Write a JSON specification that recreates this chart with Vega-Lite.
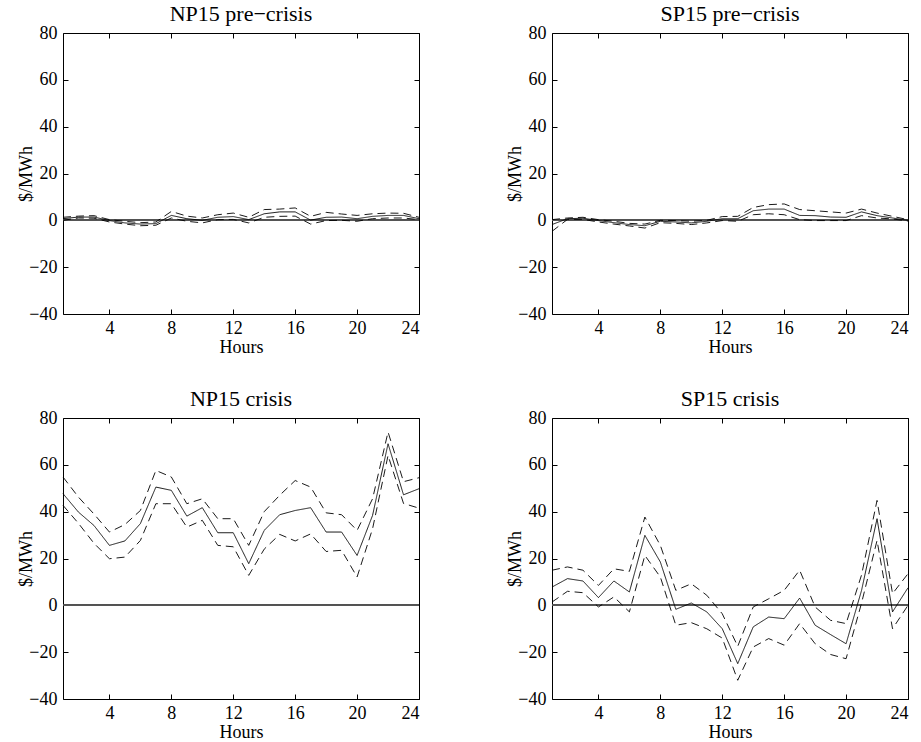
{
  "$schema": "https://vega.github.io/schema/vega-lite/v6.json",
  "padding": {"left": 16, "top": 2, "right": 5, "bottom": 0},
  "background": "white",
  "bounds": "flush",
  "spacing": {"row": 104, "column": 133},
  "columns": 2,
  "data": {"values": [
    {"panel": "NP15 pre", "hour": 1, "est": 0.7, "lo": 0.0, "hi": 1.3},
    {"panel": "NP15 pre", "hour": 2, "est": 1.4, "lo": 1.0, "hi": 1.8},
    {"panel": "NP15 pre", "hour": 3, "est": 1.4, "lo": 0.9, "hi": 2.0},
    {"panel": "NP15 pre", "hour": 4, "est": -0.1, "lo": -0.7, "hi": 0.3},
    {"panel": "NP15 pre", "hour": 5, "est": -1.1, "lo": -1.6, "hi": -0.4},
    {"panel": "NP15 pre", "hour": 6, "est": -1.6, "lo": -2.3, "hi": -1.0},
    {"panel": "NP15 pre", "hour": 7, "est": -1.4, "lo": -2.1, "hi": -0.7},
    {"panel": "NP15 pre", "hour": 8, "est": 2.1, "lo": 1.0, "hi": 3.8},
    {"panel": "NP15 pre", "hour": 9, "est": 0.7, "lo": -0.4, "hi": 1.8},
    {"panel": "NP15 pre", "hour": 10, "est": 0.0, "lo": -1.1, "hi": 1.0},
    {"panel": "NP15 pre", "hour": 11, "est": 1.3, "lo": 0.3, "hi": 2.4},
    {"panel": "NP15 pre", "hour": 12, "est": 1.6, "lo": 0.4, "hi": 3.1},
    {"panel": "NP15 pre", "hour": 13, "est": 0.3, "lo": -1.1, "hi": 1.3},
    {"panel": "NP15 pre", "hour": 14, "est": 2.8, "lo": 1.3, "hi": 4.6},
    {"panel": "NP15 pre", "hour": 15, "est": 3.6, "lo": 1.7, "hi": 4.8},
    {"panel": "NP15 pre", "hour": 16, "est": 3.6, "lo": 1.8, "hi": 5.3},
    {"panel": "NP15 pre", "hour": 17, "est": 0.1, "lo": -1.6, "hi": 1.7},
    {"panel": "NP15 pre", "hour": 18, "est": 1.3, "lo": -0.1, "hi": 3.4},
    {"panel": "NP15 pre", "hour": 19, "est": 1.4, "lo": 0.0, "hi": 2.7},
    {"panel": "NP15 pre", "hour": 20, "est": 0.7, "lo": -0.4, "hi": 2.1},
    {"panel": "NP15 pre", "hour": 21, "est": 1.7, "lo": 0.7, "hi": 2.8},
    {"panel": "NP15 pre", "hour": 22, "est": 2.1, "lo": 1.0, "hi": 3.1},
    {"panel": "NP15 pre", "hour": 23, "est": 2.1, "lo": 1.0, "hi": 3.0},
    {"panel": "NP15 pre", "hour": 24, "est": 0.7, "lo": 0.3, "hi": 1.3},
    {"panel": "SP15 pre", "hour": 1, "est": -1.8, "lo": -4.7, "hi": 0.3},
    {"panel": "SP15 pre", "hour": 2, "est": 0.7, "lo": 0.4, "hi": 1.0},
    {"panel": "SP15 pre", "hour": 3, "est": 0.9, "lo": 0.4, "hi": 1.3},
    {"panel": "SP15 pre", "hour": 4, "est": -0.1, "lo": -0.7, "hi": 0.3},
    {"panel": "SP15 pre", "hour": 5, "est": -1.0, "lo": -1.6, "hi": -0.4},
    {"panel": "SP15 pre", "hour": 6, "est": -1.8, "lo": -2.4, "hi": -1.3},
    {"panel": "SP15 pre", "hour": 7, "est": -2.3, "lo": -3.3, "hi": -1.6},
    {"panel": "SP15 pre", "hour": 8, "est": -0.4, "lo": -1.0, "hi": 0.0},
    {"panel": "SP15 pre", "hour": 9, "est": -0.7, "lo": -1.3, "hi": -0.1},
    {"panel": "SP15 pre", "hour": 10, "est": -1.1, "lo": -1.8, "hi": -0.4},
    {"panel": "SP15 pre", "hour": 11, "est": -0.4, "lo": -1.1, "hi": 0.0},
    {"panel": "SP15 pre", "hour": 12, "est": 0.7, "lo": -0.1, "hi": 1.6},
    {"panel": "SP15 pre", "hour": 13, "est": 0.7, "lo": -0.4, "hi": 1.7},
    {"panel": "SP15 pre", "hour": 14, "est": 4.1, "lo": 2.4, "hi": 5.5},
    {"panel": "SP15 pre", "hour": 15, "est": 4.8, "lo": 2.8, "hi": 6.7},
    {"panel": "SP15 pre", "hour": 16, "est": 4.8, "lo": 2.4, "hi": 7.0},
    {"panel": "SP15 pre", "hour": 17, "est": 2.1, "lo": 0.3, "hi": 4.6},
    {"panel": "SP15 pre", "hour": 18, "est": 2.0, "lo": -0.1, "hi": 4.1},
    {"panel": "SP15 pre", "hour": 19, "est": 1.4, "lo": -0.1, "hi": 3.6},
    {"panel": "SP15 pre", "hour": 20, "est": 1.3, "lo": -0.1, "hi": 3.1},
    {"panel": "SP15 pre", "hour": 21, "est": 3.6, "lo": 2.0, "hi": 4.8},
    {"panel": "SP15 pre", "hour": 22, "est": 2.0, "lo": 1.0, "hi": 3.1},
    {"panel": "SP15 pre", "hour": 23, "est": 1.0, "lo": 0.6, "hi": 1.7},
    {"panel": "SP15 pre", "hour": 24, "est": 0.0, "lo": -0.3, "hi": 0.3},
    {"panel": "NP15 crisis", "hour": 1, "est": 47.7, "lo": 42.7, "hi": 54.8},
    {"panel": "NP15 crisis", "hour": 2, "est": 39.8, "lo": 35.0, "hi": 46.2},
    {"panel": "NP15 crisis", "hour": 3, "est": 34.1, "lo": 26.5, "hi": 39.0},
    {"panel": "NP15 crisis", "hour": 4, "est": 25.6, "lo": 19.9, "hi": 31.3},
    {"panel": "NP15 crisis", "hour": 5, "est": 27.5, "lo": 20.6, "hi": 34.5},
    {"panel": "NP15 crisis", "hour": 6, "est": 34.9, "lo": 27.7, "hi": 40.5},
    {"panel": "NP15 crisis", "hour": 7, "est": 50.5, "lo": 43.4, "hi": 57.6},
    {"panel": "NP15 crisis", "hour": 8, "est": 49.1, "lo": 43.4, "hi": 54.8},
    {"panel": "NP15 crisis", "hour": 9, "est": 38.1, "lo": 33.4, "hi": 43.4},
    {"panel": "NP15 crisis", "hour": 10, "est": 41.7, "lo": 36.3, "hi": 45.5},
    {"panel": "NP15 crisis", "hour": 11, "est": 31.0, "lo": 25.6, "hi": 37.0},
    {"panel": "NP15 crisis", "hour": 12, "est": 31.0, "lo": 25.0, "hi": 37.0},
    {"panel": "NP15 crisis", "hour": 13, "est": 17.8, "lo": 12.8, "hi": 25.6},
    {"panel": "NP15 crisis", "hour": 14, "est": 32.0, "lo": 24.0, "hi": 40.0},
    {"panel": "NP15 crisis", "hour": 15, "est": 38.7, "lo": 30.3, "hi": 47.0},
    {"panel": "NP15 crisis", "hour": 16, "est": 40.5, "lo": 27.5, "hi": 53.3},
    {"panel": "NP15 crisis", "hour": 17, "est": 41.7, "lo": 30.5, "hi": 50.5},
    {"panel": "NP15 crisis", "hour": 18, "est": 31.3, "lo": 23.0, "hi": 39.5},
    {"panel": "NP15 crisis", "hour": 19, "est": 31.3, "lo": 23.5, "hi": 38.7},
    {"panel": "NP15 crisis", "hour": 20, "est": 21.3, "lo": 12.1, "hi": 32.0},
    {"panel": "NP15 crisis", "hour": 21, "est": 38.4, "lo": 32.7, "hi": 45.5},
    {"panel": "NP15 crisis", "hour": 22, "est": 69.0, "lo": 64.0, "hi": 74.0},
    {"panel": "NP15 crisis", "hour": 23, "est": 47.2, "lo": 43.5, "hi": 52.8},
    {"panel": "NP15 crisis", "hour": 24, "est": 49.8, "lo": 41.5, "hi": 54.5},
    {"panel": "SP15 crisis", "hour": 1, "est": 7.8, "lo": 1.4, "hi": 15.0},
    {"panel": "SP15 crisis", "hour": 2, "est": 11.4, "lo": 6.0, "hi": 16.4},
    {"panel": "SP15 crisis", "hour": 3, "est": 10.4, "lo": 5.4, "hi": 15.0},
    {"panel": "SP15 crisis", "hour": 4, "est": 3.3, "lo": -0.7, "hi": 8.5},
    {"panel": "SP15 crisis", "hour": 5, "est": 10.4, "lo": 3.6, "hi": 15.6},
    {"panel": "SP15 crisis", "hour": 6, "est": 5.7, "lo": -2.8, "hi": 14.5},
    {"panel": "SP15 crisis", "hour": 7, "est": 29.9, "lo": 21.3, "hi": 37.7},
    {"panel": "SP15 crisis", "hour": 8, "est": 18.5, "lo": 12.1, "hi": 25.6},
    {"panel": "SP15 crisis", "hour": 9, "est": -1.7, "lo": -8.5, "hi": 6.4},
    {"panel": "SP15 crisis", "hour": 10, "est": 1.0, "lo": -7.4, "hi": 9.2},
    {"panel": "SP15 crisis", "hour": 11, "est": -2.8, "lo": -10.0, "hi": 4.3},
    {"panel": "SP15 crisis", "hour": 12, "est": -10.0, "lo": -14.0, "hi": -3.6},
    {"panel": "SP15 crisis", "hour": 13, "est": -24.9, "lo": -32.0, "hi": -17.5},
    {"panel": "SP15 crisis", "hour": 14, "est": -9.2, "lo": -17.8, "hi": -0.7},
    {"panel": "SP15 crisis", "hour": 15, "est": -5.0, "lo": -14.2, "hi": 2.8},
    {"panel": "SP15 crisis", "hour": 16, "est": -5.7, "lo": -17.0, "hi": 6.4},
    {"panel": "SP15 crisis", "hour": 17, "est": 3.1, "lo": -7.8, "hi": 15.0},
    {"panel": "SP15 crisis", "hour": 18, "est": -8.5, "lo": -16.4, "hi": -0.7},
    {"panel": "SP15 crisis", "hour": 19, "est": -12.5, "lo": -21.0, "hi": -6.4},
    {"panel": "SP15 crisis", "hour": 20, "est": -16.4, "lo": -22.8, "hi": -7.8},
    {"panel": "SP15 crisis", "hour": 21, "est": 6.4, "lo": 1.0, "hi": 13.0},
    {"panel": "SP15 crisis", "hour": 22, "est": 37.0, "lo": 27.7, "hi": 44.8},
    {"panel": "SP15 crisis", "hour": 23, "est": -2.8, "lo": -10.0, "hi": 5.0},
    {"panel": "SP15 crisis", "hour": 24, "est": 7.5, "lo": 0.0, "hi": 13.5}
  ]},
  "concat": [
    {
      "title": "NP15 pre−crisis",
      "width": 356, "height": 281,
      "transform": [{"filter": "datum.panel === 'NP15 pre'"}, {"fold": ["est", "lo", "hi"], "as": ["series", "value"]}],
      "layer": [
        {"mark": {"type": "rule", "color": "#555", "strokeWidth": 0.8}, "encoding": {"y": {"datum": 0, "type": "quantitative", "scale": {"domain": [-40, 80], "nice": false}, "axis": null}}},
        {"mark": {"type": "line", "color": "black", "strokeWidth": 0.9},
         "encoding": {
           "x": {"field": "hour", "type": "quantitative", "scale": {"domain": [1, 24], "nice": false, "zero": false}, "axis": {"values": [4, 8, 12, 16, 20, 24], "title": "Hours", "labelPadding": 10, "titlePadding": 1, "labelFont": "Liberation Serif"}},
           "y": {"field": "value", "type": "quantitative", "scale": {"domain": [-40, 80], "nice": false}, "axis": {"values": [-40, -20, 0, 20, 40, 60, 80], "title": "$/MWh", "titleX": -37, "titleY": 140.5, "titleBaseline": "middle", "labelFont": "Liberation Serif"}},
           "detail": {"field": "series"},
           "strokeDash": {"field": "series", "scale": {"domain": ["est", "lo", "hi"], "range": [[1, 0], [8, 5], [8, 5]]}, "legend": null}
         }},
        {"mark": {"type": "line", "opacity": 0},
         "encoding": {
           "x": {"field": "hour", "type": "quantitative", "axis": {"orient": "top", "values": [4, 8, 12, 16, 20, 24], "labels": false, "title": null}},
           "y": {"field": "value", "type": "quantitative", "axis": {"orient": "right", "values": [-40, -20, 0, 20, 40, 60, 80], "labels": false, "title": null}},
           "detail": {"field": "series"}
         }}
      ],
      "resolve": {"axis": {"x": "independent", "y": "independent"}}
    },
    {
      "title": "SP15 pre−crisis",
      "width": 356, "height": 281,
      "transform": [{"filter": "datum.panel === 'SP15 pre'"}, {"fold": ["est", "lo", "hi"], "as": ["series", "value"]}],
      "layer": [
        {"mark": {"type": "rule", "color": "#555", "strokeWidth": 0.8}, "encoding": {"y": {"datum": 0, "type": "quantitative", "scale": {"domain": [-40, 80], "nice": false}, "axis": null}}},
        {"mark": {"type": "line", "color": "black", "strokeWidth": 0.9},
         "encoding": {
           "x": {"field": "hour", "type": "quantitative", "scale": {"domain": [1, 24], "nice": false, "zero": false}, "axis": {"values": [4, 8, 12, 16, 20, 24], "title": "Hours", "labelPadding": 10, "titlePadding": 1, "labelFont": "Liberation Serif"}},
           "y": {"field": "value", "type": "quantitative", "scale": {"domain": [-40, 80], "nice": false}, "axis": {"values": [-40, -20, 0, 20, 40, 60, 80], "title": "$/MWh", "titleX": -37, "titleY": 140.5, "titleBaseline": "middle", "labelFont": "Liberation Serif"}},
           "detail": {"field": "series"},
           "strokeDash": {"field": "series", "scale": {"domain": ["est", "lo", "hi"], "range": [[1, 0], [8, 5], [8, 5]]}, "legend": null}
         }},
        {"mark": {"type": "line", "opacity": 0},
         "encoding": {
           "x": {"field": "hour", "type": "quantitative", "axis": {"orient": "top", "values": [4, 8, 12, 16, 20, 24], "labels": false, "title": null}},
           "y": {"field": "value", "type": "quantitative", "axis": {"orient": "right", "values": [-40, -20, 0, 20, 40, 60, 80], "labels": false, "title": null}},
           "detail": {"field": "series"}
         }}
      ],
      "resolve": {"axis": {"x": "independent", "y": "independent"}}
    },
    {
      "title": "NP15 crisis",
      "width": 356, "height": 281,
      "transform": [{"filter": "datum.panel === 'NP15 crisis'"}, {"fold": ["est", "lo", "hi"], "as": ["series", "value"]}],
      "layer": [
        {"mark": {"type": "rule", "color": "#555", "strokeWidth": 0.8}, "encoding": {"y": {"datum": 0, "type": "quantitative", "scale": {"domain": [-40, 80], "nice": false}, "axis": null}}},
        {"mark": {"type": "line", "color": "black", "strokeWidth": 0.9},
         "encoding": {
           "x": {"field": "hour", "type": "quantitative", "scale": {"domain": [1, 24], "nice": false, "zero": false}, "axis": {"values": [4, 8, 12, 16, 20, 24], "title": "Hours", "labelPadding": 10, "titlePadding": 1, "labelFont": "Liberation Serif"}},
           "y": {"field": "value", "type": "quantitative", "scale": {"domain": [-40, 80], "nice": false}, "axis": {"values": [-40, -20, 0, 20, 40, 60, 80], "title": "$/MWh", "titleX": -37, "titleY": 140.5, "titleBaseline": "middle", "labelFont": "Liberation Serif"}},
           "detail": {"field": "series"},
           "strokeDash": {"field": "series", "scale": {"domain": ["est", "lo", "hi"], "range": [[1, 0], [8, 5], [8, 5]]}, "legend": null}
         }},
        {"mark": {"type": "line", "opacity": 0},
         "encoding": {
           "x": {"field": "hour", "type": "quantitative", "axis": {"orient": "top", "values": [4, 8, 12, 16, 20, 24], "labels": false, "title": null}},
           "y": {"field": "value", "type": "quantitative", "axis": {"orient": "right", "values": [-40, -20, 0, 20, 40, 60, 80], "labels": false, "title": null}},
           "detail": {"field": "series"}
         }}
      ],
      "resolve": {"axis": {"x": "independent", "y": "independent"}}
    },
    {
      "title": "SP15 crisis",
      "width": 356, "height": 281,
      "transform": [{"filter": "datum.panel === 'SP15 crisis'"}, {"fold": ["est", "lo", "hi"], "as": ["series", "value"]}],
      "layer": [
        {"mark": {"type": "rule", "color": "#555", "strokeWidth": 0.8}, "encoding": {"y": {"datum": 0, "type": "quantitative", "scale": {"domain": [-40, 80], "nice": false}, "axis": null}}},
        {"mark": {"type": "line", "color": "black", "strokeWidth": 0.9},
         "encoding": {
           "x": {"field": "hour", "type": "quantitative", "scale": {"domain": [1, 24], "nice": false, "zero": false}, "axis": {"values": [4, 8, 12, 16, 20, 24], "title": "Hours", "labelPadding": 10, "titlePadding": 1, "labelFont": "Liberation Serif"}},
           "y": {"field": "value", "type": "quantitative", "scale": {"domain": [-40, 80], "nice": false}, "axis": {"values": [-40, -20, 0, 20, 40, 60, 80], "title": "$/MWh", "titleX": -37, "titleY": 140.5, "titleBaseline": "middle", "labelFont": "Liberation Serif"}},
           "detail": {"field": "series"},
           "strokeDash": {"field": "series", "scale": {"domain": ["est", "lo", "hi"], "range": [[1, 0], [8, 5], [8, 5]]}, "legend": null}
         }},
        {"mark": {"type": "line", "opacity": 0},
         "encoding": {
           "x": {"field": "hour", "type": "quantitative", "axis": {"orient": "top", "values": [4, 8, 12, 16, 20, 24], "labels": false, "title": null}},
           "y": {"field": "value", "type": "quantitative", "axis": {"orient": "right", "values": [-40, -20, 0, 20, 40, 60, 80], "labels": false, "title": null}},
           "detail": {"field": "series"}
         }}
      ],
      "resolve": {"axis": {"x": "independent", "y": "independent"}}
    }
  ],
  "config": {
    "font": "Liberation Serif",
    "view": {"stroke": "black", "strokeWidth": 1},
    "axis": {"domain": false, "grid": false, "labelFont": "Liberation Serif", "labelFontSize": 18, "labelColor": "black", "tickColor": "black", "tickSize": -5, "labelPadding": 11, "titleFont": "Liberation Serif", "titleFontSize": 18, "titleFontWeight": "normal", "titleColor": "black"},
    "title": {"font": "Liberation Serif", "fontSize": 22, "fontWeight": "normal", "color": "black", "offset": -2}
  }
}
